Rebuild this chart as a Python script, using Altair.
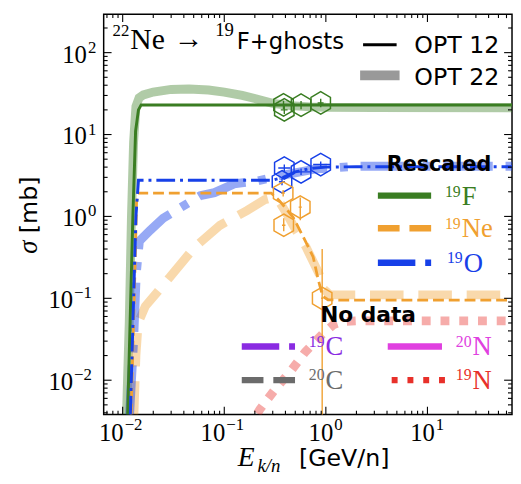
import altair as alt
import pandas as pd

# ---------------- values ----------------
# OPT 22 curves (thick, translucent)
F19_22_E = [0.0109, 0.0116, 0.0122, 0.0128, 0.0135, 0.0145, 0.016, 0.02, 0.03, 0.045, 0.07, 0.1, 0.15, 0.2, 0.3, 0.45, 0.7, 1, 3, 68]
F19_22_S = [0.0038, 0.05, 1, 8, 22, 28, 30.5, 33, 35.5, 36, 35, 33, 30, 27.5, 24, 22.5, 21.8, 21.5, 21.3, 21.2]
NE19_22_E = [0.0129, 0.0135, 0.0142, 0.0167, 0.029, 0.051, 0.091, 0.167, 0.25, 0.3, 0.35, 0.41, 0.5, 0.64, 0.855, 0.95, 1.1, 3, 68]
NE19_22_S = [0.0038, 0.02, 0.05, 0.08, 0.18, 0.42, 0.78, 1.18, 1.6, 1.7, 1.5, 1.09, 0.7, 0.42, 0.2, 0.13, 0.11, 0.11, 0.11]
O19_22_E = [0.0117, 0.0128, 0.0136, 0.0146, 0.0187, 0.025, 0.058, 0.08, 0.125, 0.21, 0.38, 0.8, 2, 68]
O19_22_S = [0.0038, 0.03, 0.2, 0.5, 0.68, 0.95, 1.79, 1.95, 2.5, 2.7, 3.2, 3.8, 4.1, 4.1]
N19_22_E = [0.17, 0.224, 0.313, 0.457, 0.625, 0.935, 1.2, 1.46, 2, 68]
N19_22_S = [0.0025, 0.0044, 0.0076, 0.0132, 0.022, 0.037, 0.048, 0.052, 0.053, 0.053]

# OPT 12 curves (thin)
F19_12_E = [0.0112, 0.0126, 0.0134, 0.0143, 0.0152, 0.3, 1, 68]
F19_12_S = [0.0038, 1, 11, 20, 23, 23, 23, 23]
NE19_12_E = [0.0121, 0.0133, 0.0137, 0.0142, 0.29, 0.35, 0.478, 0.6, 0.75, 0.84, 0.93, 1.05, 1.5, 68]
NE19_12_S = [0.0038, 0.3, 1.5, 1.93, 1.93, 1.55, 0.97, 0.56, 0.32, 0.17, 0.106, 0.096, 0.095, 0.095]
O19_12_E = [0.0119, 0.0135, 0.0143, 0.30, 0.38, 0.5, 0.7, 1.0, 2, 68]
O19_12_S = [0.0038, 1.0, 2.77, 2.77, 3.0, 3.5, 3.85, 4.0, 4.05, 4.05]

# measured data points
F19_PT_E = [0.383, 0.39, 0.57, 0.89]
F19_PT_S = [23, 20, 22.8, 24.3]
F19_PT_ELO = [0.355, 0.36, 0.53, 0.83]
F19_PT_EHI = [0.41, 0.42, 0.61, 0.95]
F19_PT_SLO = [20.5, 17.8, 20.3, 21.6]
F19_PT_SHI = [25.8, 22.4, 25.6, 27.3]

O19_PT_E = [0.39, 0.37, 0.57, 0.89]
O19_PT_S = [3.9, 2.65, 3.5, 4.3]
O19_PT_ELO = [0.34, 0.345, 0.51, 0.75]
O19_PT_EHI = [0.45, 0.395, 0.72, 1.1]
O19_PT_SLO = [3.55, 2.4, 3.2, 3.9]
O19_PT_SHI = [4.3, 2.9, 3.85, 4.7]

NE19_PT_E = [0.38, 0.56, 0.385, 0.92]
NE19_PT_S = [1.93, 1.3, 0.78, 0.1]
NE19_PT_ELO = [0.365, 0.54, 0.37, 0.9]
NE19_PT_EHI = [0.395, 0.58, 0.40, 0.94]
NE19_PT_SLO = [1.75, 0.9, 0.66, 0.001]
NE19_PT_SHI = [2.1, 1.7, 0.95, 0.4]

# tick labels
XTICK_VALS = [0.01, 0.1, 1, 10]
XTICK_EXP = ["\u22122", "\u22121", "0", "1"]
YTICK_VALS = [0.01, 0.1, 1, 10, 100]
YTICK_EXP = ["\u22122", "\u22121", "0", "1", "2"]

# ---------------- styling ----------------
XMIN, XMAX = 0.0065, 68
YMIN, YMAX = 0.0038, 295
W, H = 414, 406
X0, Y0 = 105, 11  # plot origin on the page

GREEN = "#3a7d22"
ORANGE = "#f0a030"
BLUE = "#1740e8"
PURPLE = "#8a2be2"
GRAY = "#6b6b6b"
MAGENTA = "#e040e0"
RED = "#e8302a"
SERIF = "Liberation Serif"
SANS = "DejaVu Sans"
HEX = "M0,-1L0.866,-0.5L0.866,0.5L0,1L-0.866,0.5L-0.866,-0.5Z"

xs = alt.Scale(type="log", domain=[XMIN, XMAX], nice=False)
ys = alt.Scale(type="log", domain=[YMIN, YMAX], nice=False)


def rx(px):
    return px - X0


def ry(py):
    return py - Y0


def curve(E, S, color, width, dash=None, opacity=1.0):
    df = pd.DataFrame({"E": E, "S": S, "i": list(range(len(E)))})
    kw = dict(color=color, strokeWidth=width, opacity=opacity, clip=True, strokeCap="butt")
    if dash:
        kw["strokeDash"] = dash
    return alt.Chart(df).mark_line(**kw).encode(
        x=alt.X("E:Q", scale=xs, axis=None),
        y=alt.Y("S:Q", scale=ys, axis=None),
        order="i:Q",
    )


def data_points(E, S, elo, ehi, slo, shi, color):
    df = pd.DataFrame({"E": E, "S": S, "elo": elo, "ehi": ehi, "slo": slo, "shi": shi})
    base = alt.Chart(df)
    vbar = base.mark_rule(color=color, strokeWidth=1.4, clip=True).encode(
        x=alt.X("E:Q", scale=xs, axis=None),
        y=alt.Y("slo:Q", scale=ys, axis=None), y2="shi:Q")
    hbar = base.mark_rule(color=color, strokeWidth=1.4, clip=True).encode(
        x=alt.X("elo:Q", scale=xs, axis=None), x2="ehi:Q",
        y=alt.Y("S:Q", scale=ys, axis=None))
    hexes = base.mark_point(shape=HEX, size=520, filled=False, color=color,
                            strokeWidth=1.5, opacity=1, clip=True).encode(
        x=alt.X("E:Q", scale=xs, axis=None),
        y=alt.Y("S:Q", scale=ys, axis=None))
    return [vbar, hbar, hexes]


def txt(s, x, y, size, font, color="black", align="left", weight="normal",
        style="normal", angle=None):
    kw = dict(fontSize=size, font=font, color=color, align=align,
              baseline="alphabetic", fontWeight=weight, fontStyle=style)
    if angle is not None:
        kw["angle"] = angle
    return alt.Chart(pd.DataFrame({"t": [s]})).mark_text(**kw).encode(
        x=alt.value(x), y=alt.value(y), text="t:N")


def sup_label(sup, base, join_px, base_py, sup_py, color, base_size=27, sup_size=16,
              base_font=SERIF):
    return [
        txt(sup, rx(join_px), ry(sup_py), sup_size, SERIF, color, align="right"),
        txt(base, rx(join_px + 1), ry(base_py), base_size, base_font, color, align="left"),
    ]


def handle(x1, x2, y, color, width, dash=None, opacity=1.0):
    kw = dict(color=color, strokeWidth=width, strokeCap="butt", opacity=opacity)
    if dash:
        kw["strokeDash"] = dash
    return alt.Chart(pd.DataFrame({"a": [0]})).mark_rule(**kw).encode(
        x=alt.value(rx(x1)), x2=alt.value(rx(x2)), y=alt.value(ry(y)))


layers = []
# OPT 22
layers.append(curve(F19_22_E, F19_22_S, GREEN, 9, opacity=0.4))
layers.append(curve(NE19_22_E, NE19_22_S, ORANGE, 9, dash=[34, 15], opacity=0.4))
layers.append(curve(O19_22_E, O19_22_S, BLUE, 9, dash=[50, 13, 8, 13], opacity=0.45))
layers.append(curve(N19_22_E, N19_22_S, RED, 9, dash=[9, 10], opacity=0.4))
# OPT 12
layers.append(curve(F19_12_E, F19_12_S, GREEN, 3))
layers.append(curve(NE19_12_E, NE19_12_S, ORANGE, 2.8, dash=[11, 5]))
layers.append(curve(O19_12_E, O19_12_S, BLUE, 3, dash=[19, 5, 3, 5]))
# data
layers += data_points(F19_PT_E, F19_PT_S, F19_PT_ELO, F19_PT_EHI, F19_PT_SLO, F19_PT_SHI, GREEN)
layers += data_points(O19_PT_E, O19_PT_S, O19_PT_ELO, O19_PT_EHI, O19_PT_SLO, O19_PT_SHI, BLUE)
layers += data_points(NE19_PT_E, NE19_PT_S, NE19_PT_ELO, NE19_PT_EHI, NE19_PT_SLO, NE19_PT_SHI, ORANGE)

# inward ticks
minor_x = [m * 10.0 ** d for d in range(-3, 2) for m in range(2, 10) if XMIN < m * 10.0 ** d < XMAX]
minor_y = [m * 10.0 ** d for d in range(-3, 3) for m in range(2, 10) if YMIN < m * 10.0 ** d < YMAX]
for vals, L in ((XTICK_VALS, 8), (minor_x, 4)):
    d = alt.Chart(pd.DataFrame({"v": vals}))
    layers.append(d.mark_rule(color="black", strokeWidth=1.1).encode(
        x=alt.X("v:Q", scale=xs, axis=None), y=alt.value(H), y2=alt.value(H - L)))
    layers.append(d.mark_rule(color="black", strokeWidth=1.1).encode(
        x=alt.X("v:Q", scale=xs, axis=None), y=alt.value(0), y2=alt.value(L)))
for vals, L in ((YTICK_VALS, 8), (minor_y, 4)):
    d = alt.Chart(pd.DataFrame({"v": vals}))
    layers.append(d.mark_rule(color="black", strokeWidth=1.1).encode(
        y=alt.Y("v:Q", scale=ys, axis=None), x=alt.value(0), x2=alt.value(L)))
    layers.append(d.mark_rule(color="black", strokeWidth=1.1).encode(
        y=alt.Y("v:Q", scale=ys, axis=None), x=alt.value(W - L), x2=alt.value(W)))

# tick labels
xl = pd.DataFrame({"v": XTICK_VALS, "e": XTICK_EXP, "b": ["10"] * len(XTICK_VALS)})
yl = pd.DataFrame({"v": YTICK_VALS, "e": YTICK_EXP, "b": ["10"] * len(YTICK_VALS)})
for neg, join in ((True, 1), (False, 7.5)):
    sub = xl[(xl.v < 1) == neg]
    c = alt.Chart(sub)
    layers.append(c.mark_text(align="right", baseline="alphabetic", dx=join, fontSize=25,
                              font=SERIF, color="black").encode(
        x=alt.X("v:Q", scale=xs, axis=None), y=alt.value(ry(444)), text="b:N"))
    layers.append(c.mark_text(align="left", baseline="alphabetic", dx=join + 1, fontSize=17,
                              font=SERIF, color="black").encode(
        x=alt.X("v:Q", scale=xs, axis=None), y=alt.value(ry(433)), text="e:N"))
for neg, join in ((True, 74), (False, 88)):
    sub = yl[(yl.v < 1) == neg]
    c = alt.Chart(sub)
    layers.append(c.mark_text(align="right", baseline="alphabetic", dy=10, fontSize=25,
                              font=SERIF, color="black").encode(
        y=alt.Y("v:Q", scale=ys, axis=None), x=alt.value(rx(join)), text="b:N"))
    layers.append(c.mark_text(align="left", baseline="alphabetic", dy=0, fontSize=17,
                              font=SERIF, color="black").encode(
        y=alt.Y("v:Q", scale=ys, axis=None), x=alt.value(rx(join + 1)), text="e:N"))

# axis titles
layers.append(txt("E", rx(241), ry(469), 28, SERIF, style="italic"))
layers.append(txt("k/n", rx(261), ry(475), 19, SERIF, style="italic"))
layers.append(txt("[GeV/n]", rx(303), ry(469), 24, SANS))
layers.append(txt("\u03c3", rx(37), ry(254), 27, SERIF, style="italic", angle=270))
layers.append(txt("[mb]", rx(37), ry(233), 24, SANS, angle=270))

# title inside the plot
layers.append(txt("22", rx(131), ry(33), 17, SERIF, align="right"))
layers.append(txt("Ne", rx(132), ry(46), 30, SERIF))
layers.append(txt("\u2192", rx(176), ry(45), 30, SERIF))
layers.append(txt("19", rx(237), ry(33), 19, SERIF, align="right"))
layers.append(txt("F+ghosts", rx(240), ry(46), 23, SANS))

# OPT legend
layers.append(handle(368, 402, 42, "black", 3))
layers.append(handle(365, 405, 73, "black", 10, opacity=0.4))
layers.append(txt("OPT 12", rx(420), ry(50), 24, SANS))
layers.append(txt("OPT 22", rx(420), ry(83), 24, SANS))

# Rescaled legend
layers.append(txt("Rescaled", rx(445), ry(170), 21, SANS, align="center", weight="bold"))
layers.append(handle(383, 437, 195, GREEN, 6.5))
layers.append(handle(383, 437, 228, ORANGE, 6.5, dash=[22, 10]))
layers.append(handle(383, 437, 263, BLUE, 6.5, dash=[38, 10, 6, 10]))
layers += sup_label("19", "F", 467, 204, 196, GREEN)
layers += sup_label("19", "Ne", 467, 237, 229, ORANGE)
layers += sup_label("19", "O", 469, 272, 263, BLUE)

# No data legend
layers.append(txt("No data", rx(373), ry(323), 22, SANS, align="center", weight="bold"))
layers.append(handle(245, 299, 348, PURPLE, 6.5, dash=[38, 10, 6, 10]))
layers.append(handle(245, 299, 382, GRAY, 6.5, dash=[22, 10]))
layers.append(handle(393, 448, 348, MAGENTA, 6.5))
layers.append(handle(397, 451, 382, RED, 6.5, dash=[6, 10]))
layers += sup_label("19", "C", 329, 357, 348, PURPLE)
layers += sup_label("20", "C", 329, 391, 382, GRAY)
layers += sup_label("20", "N", 478, 357, 348, MAGENTA)
layers += sup_label("19", "N", 478, 391, 382, RED)

chart = alt.layer(*layers).properties(
    width=W, height=H,
    padding={"left": X0 - 8, "top": Y0 - 8, "right": 1, "bottom": 60},
    autosize=alt.AutoSizeParams(type="none"),
).configure_view(stroke="black", strokeWidth=1.5)

chart.save("out.html", embed_options={"renderer": "svg", "actions": False})
